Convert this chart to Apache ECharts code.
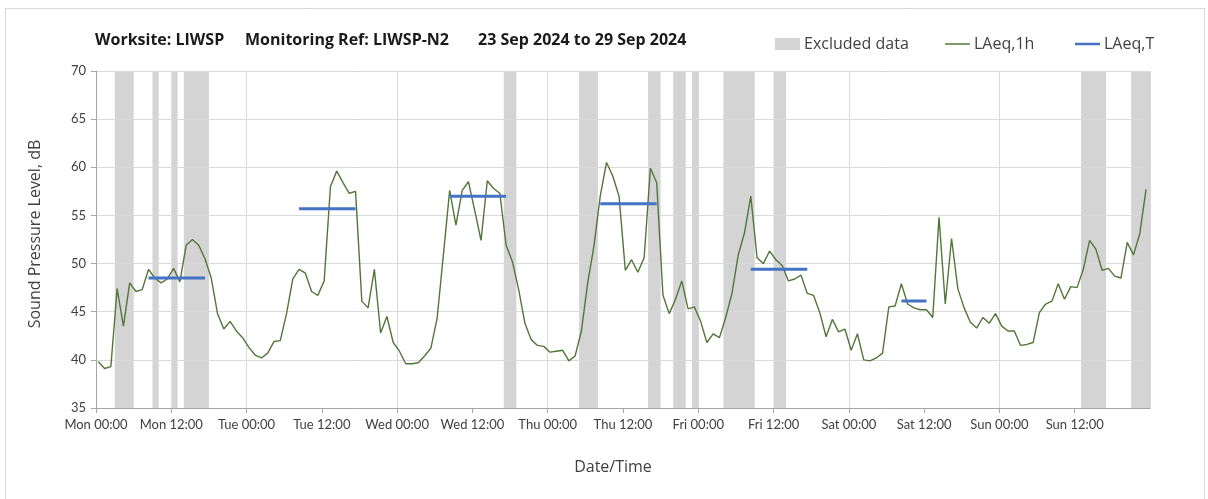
<!DOCTYPE html>
<html>
<head>
<meta charset="utf-8">
<script src="https://cdn.jsdelivr.net/npm/echarts@6/dist/echarts.min.js"></script>
<style>
  html, body { margin: 0; padding: 0; background: #fff; }
  #chart { width: 1208px; height: 499px; }
</style>
</head>
<body>
<div id="chart"></div>
<script>
// hourly LAeq,1h values, Mon 00:00 -> Sun 23:00
const hourlyLevels = [
  39.8, 39.1, 39.3, 47.4, 43.5, 48.0, 47.1, 47.3, 49.4, 48.5,
  48.0, 48.4, 49.5, 48.1, 51.9, 52.5, 51.9, 50.5, 48.5, 44.8,
  43.2, 44.0, 43.0, 42.3, 41.3, 40.5, 40.2, 40.7, 41.9, 42.0,
  44.8, 48.4, 49.4, 49.0, 47.1, 46.7, 48.2, 58.0, 59.6, 58.4,
  57.3, 57.5, 46.1, 45.4, 49.4, 42.8, 44.5, 41.8, 40.9, 39.6,
  39.6, 39.7, 40.4, 41.2, 44.3, 50.9, 57.6, 54.0, 57.6, 58.5,
  55.5, 52.4, 58.6, 57.8, 57.3, 51.9, 50.2, 47.3, 43.8, 42.1,
  41.5, 41.4, 40.8, 40.9, 41.0, 39.9, 40.4, 43.0, 48.0, 51.8,
  57.0, 60.5, 59.1, 57.0, 49.3, 50.4, 49.1, 50.6, 59.9, 58.4,
  46.7, 44.8, 46.3, 48.2, 45.3, 45.5, 44.0, 41.8, 42.7, 42.3,
  44.4, 46.9, 50.9, 53.2, 57.0, 50.6, 50.0, 51.3, 50.4, 49.8,
  48.2, 48.4, 48.8, 46.9, 46.7, 44.9, 42.4, 44.2, 42.9, 43.2,
  41.0, 42.7, 40.0, 39.9, 40.2, 40.7, 45.5, 45.6, 47.9, 45.8,
  45.4, 45.2, 45.2, 44.4, 54.8, 45.8, 52.6, 47.4, 45.4, 43.9,
  43.3, 44.4, 43.8, 44.8, 43.5, 43.0, 43.0, 41.5, 41.6, 41.8,
  44.9, 45.8, 46.1, 47.9, 46.3, 47.6, 47.5, 49.4, 52.4, 51.5,
  49.3, 49.5, 48.7, 48.5, 52.2, 50.9, 53.1, 57.7
];
const HOUR_OFFSET = 0.37;

// excluded periods, hours from Mon 00:00
const excludedStart = [3, 9, 12, 14, 65, 77, 88, 92, 95, 100, 108, 157, 165];
const excludedEnd   = [6, 10, 13, 18, 67, 80, 90, 94, 96, 105, 110, 161, 168];

// LAeq,T daytime periods
const periodStart = [8, 32, 56, 80, 104, 128];
const periodEnd   = [17, 41, 65, 89, 113, 132];
const periodLevel = [48.5, 55.7, 57.0, 56.2, 49.4, 46.1];

const dayNames = ['Mon', 'Tue', 'Wed', 'Thu', 'Fri', 'Sat', 'Sun'];
const yTicks = [35, 40, 45, 50, 55, 60, 65, 70];

const FONT = '"Open Sans", sans-serif';
const TICK_FONT = 'Lato, sans-serif';
const TEXT = '#404040';
const GREEN = '#52763A';
const BLUE = '#4472C4';
const GREY = '#D4D4D4';

const lineData = hourlyLevels.map((v, i) => [i + HOUR_OFFSET, v]);
const bandData = excludedStart.map((s, i) => [s, excludedEnd[i]]);
const periodData = [];
periodStart.forEach((s, i) => {
  periodData.push([s + HOUR_OFFSET, periodLevel[i]]);
  periodData.push([periodEnd[i] + HOUR_OFFSET, periodLevel[i]]);
  periodData.push('-');
});

const chart = echarts.init(document.getElementById('chart'), null, { renderer: 'canvas' });

const legendBase = {
  top: 36,
  padding: 0,
  itemWidth: 25,
  itemGap: 0,
  textStyle: { fontFamily: FONT, fontSize: 16, color: TEXT, padding: [0, 0, 0, -1] },
  selectedMode: false,
};

chart.setOption({
  backgroundColor: '#fff',
  animation: false,
  grid: { left: 96, right: 58, top: 71, bottom: 91 },
  legend: [
    { ...legendBase, left: 775, itemHeight: 12, data: [{ name: 'Excluded data', icon: 'rect' }] },
    { ...legendBase, left: 945, itemHeight: 1.5, data: [{ name: 'LAeq,1h', icon: 'rect' }] },
    { ...legendBase, left: 1075, itemHeight: 2.5, data: [{ name: 'LAeq,T', icon: 'rect' }] },
  ],
  graphic: [
    { type: 'rect', shape: { x: 5.5, y: 8.5, width: 1199, height: 495 }, style: { fill: 'none', stroke: '#D9D9D9', lineWidth: 1 }, silent: true },
    { type: 'text', left: 95, top: 32, style: { text: 'Worksite: LIWSP', font: 'bold 16px ' + FONT, fill: '#1a1a1a' } },
    { type: 'text', left: 245, top: 32, style: { text: 'Monitoring Ref: LIWSP-N2', font: 'bold 16px ' + FONT, fill: '#1a1a1a' } },
    { type: 'text', left: 478, top: 32, style: { text: '23 Sep 2024 to 29 Sep 2024', font: 'bold 16px ' + FONT, fill: '#1a1a1a' } },
    { type: 'text', x: 35, y: 234, rotation: Math.PI / 2, style: { text: 'Sound Pressure Level, dB', font: '16px ' + FONT, fill: TEXT, align: 'center', verticalAlign: 'middle' } },
    { type: 'text', x: 613, y: 467, style: { text: 'Date/Time', font: '16px ' + FONT, fill: TEXT, align: 'center', verticalAlign: 'middle' } },
  ],
  xAxis: [
    {
      type: 'value', min: 0, max: 168, interval: 12,
      axisLine: { show: true, lineStyle: { color: '#A6A6A6' } },
      axisTick: { show: true, length: 5, lineStyle: { color: '#A6A6A6' } },
      splitLine: { show: false },
      axisLabel: {
        margin: 10, fontFamily: TICK_FONT, fontSize: 13, color: TEXT, showMaxLabel: false,
        formatter: (v) => v >= 168 ? '' : dayNames[Math.floor(v / 24)] + (v % 24 === 0 ? ' 00:00' : ' 12:00'),
      },
    },
    {
      type: 'value', min: 0, max: 168, interval: 24, position: 'bottom',
      axisLine: { show: false }, axisTick: { show: false }, axisLabel: { show: false },
      splitLine: { show: true, lineStyle: { color: '#D9D9D9', width: 1 } },
    },
  ],
  yAxis: {
    type: 'value', min: yTicks[0], max: yTicks[yTicks.length - 1], interval: 5,
    axisLine: { show: true, lineStyle: { color: '#A6A6A6' } },
    axisTick: { show: true, length: 5, lineStyle: { color: '#A6A6A6' } },
    axisLabel: { margin: 10, fontFamily: TICK_FONT, fontSize: 13, color: TEXT },
    splitLine: { show: true, lineStyle: { color: '#D9D9D9', width: 1 } },
  },
  series: [
    {
      name: 'Excluded data',
      type: 'custom',
      z: -1,
      itemStyle: { color: GREY },
      data: bandData,
      renderItem: (params, api) => {
        const p0 = api.coord([api.value(0), yTicks[yTicks.length - 1]]);
        const p1 = api.coord([api.value(1), yTicks[0]]);
        return {
          type: 'rect',
          shape: { x: p0[0], y: p0[1], width: p1[0] - p0[0], height: p1[1] - p0[1] },
          style: { fill: GREY },
        };
      },
    },
    {
      name: 'LAeq,1h',
      type: 'line',
      symbol: 'none',
      data: lineData,
      itemStyle: { color: GREEN },
      lineStyle: { color: GREEN, width: 1.4 },
      z: 3,
    },
    {
      name: 'LAeq,T',
      type: 'line',
      symbol: 'none',
      connectNulls: false,
      data: periodData,
      itemStyle: { color: BLUE },
      lineStyle: { color: BLUE, width: 3 },
      z: 4,
    },
  ],
});
</script>
</body>
</html>
